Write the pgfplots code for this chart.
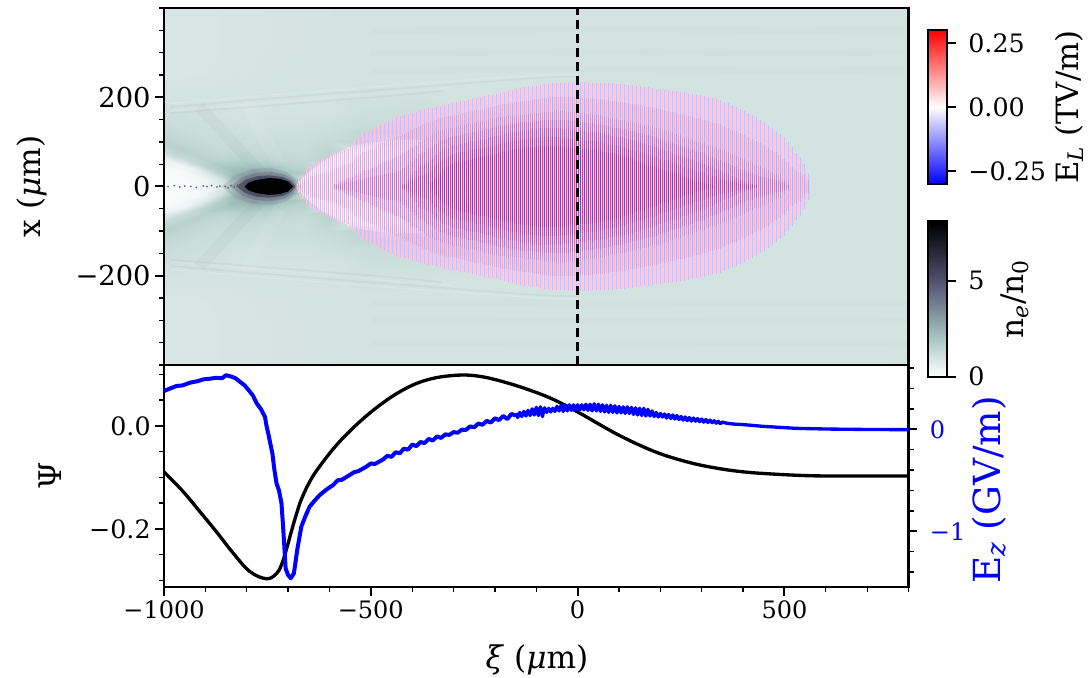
\documentclass[border=0pt]{standalone}
\usepackage{fontspec}
\setmainfont{DejaVu Serif}
\usepackage{pgfplots}
\usepackage{pgfplotstable}
\usepgfplotslibrary{patchplots}
\pgfplotsset{compat=1.18}
\newcommand{\sbs}[1]{\textsubscript{#1}}
\definecolor{lp1}{RGB}{255,195,210}\definecolor{lp2}{RGB}{255,170,185}\definecolor{lp3}{RGB}{255,145,160}\definecolor{lp4}{RGB}{255,120,135}\definecolor{lp5}{RGB}{255,100,115}\definecolor{lp6}{RGB}{255,80,90}\definecolor{lp7}{RGB}{255,60,70}
\definecolor{lb1}{RGB}{190,195,255}\definecolor{lb2}{RGB}{170,175,255}\definecolor{lb3}{RGB}{145,155,255}\definecolor{lb4}{RGB}{125,135,255}\definecolor{lb5}{RGB}{105,115,255}\definecolor{lb6}{RGB}{88,98,255}\definecolor{lb7}{RGB}{70,80,255}
\pgfplotstableread{
x y n
-1000 0 .1
-1000 15 .1
-1000 30 .15
-1000 45 .25
-1000 60 .4
-1000 80 1.3
-1000 100 1.6
-1000 120 1.4
-1000 140 1.25
-1000 170 1.1
-1000 200 1
-1000 250 .9
-1000 300 .9
-1000 400 .9
-950 0 .15
-950 15 .15
-950 30 .2
-950 45 .4
-950 60 1.2
-950 80 1.6
-950 100 1.4
-950 120 1.25
-950 140 1.15
-950 170 1.08
-950 200 1
-950 250 .91
-950 300 .9
-950 400 .9
-900 0 .3
-900 15 .3
-900 30 .7
-900 45 1.5
-900 60 1.6
-900 80 1.4
-900 100 1.25
-900 120 1.15
-900 140 1.1
-900 170 1.05
-900 200 1
-900 250 .92
-900 300 .91
-900 400 .91
-860 0 .8
-860 15 1
-860 30 1.7
-860 45 1.9
-860 60 1.5
-860 80 1.3
-860 100 1.2
-860 120 1.15
-860 140 1.1
-860 170 1.05
-860 200 1
-860 250 .93
-860 300 .92
-860 400 .92
-820 0 2
-820 15 2.4
-820 30 2.4
-820 45 2
-820 60 1.6
-820 80 1.35
-820 100 1.2
-820 120 1.1
-820 140 1.05
-820 170 1
-820 200 1
-820 250 .94
-820 300 .93
-820 400 .93
-780 0 4
-780 15 3.6
-780 30 2.8
-780 45 2
-780 60 1.55
-780 80 1.3
-780 100 1.2
-780 120 1.12
-780 140 1.05
-780 170 1
-780 200 1
-780 250 .95
-780 300 .94
-780 400 .94
-740 0 4
-740 15 3.6
-740 30 2.7
-740 45 1.9
-740 60 1.55
-740 80 1.3
-740 100 1.2
-740 120 1.1
-740 140 1.05
-740 170 1
-740 200 1
-740 250 .96
-740 300 .95
-740 400 .95
-700 0 4
-700 15 3
-700 30 2
-700 45 1.6
-700 60 1.4
-700 80 1.25
-700 100 1.15
-700 120 1.1
-700 140 1.05
-700 170 1
-700 200 1
-700 250 .97
-700 300 .96
-700 400 .96
-660 0 .5
-660 15 1.1
-660 30 1.7
-660 45 1.5
-660 60 1.35
-660 80 1.2
-660 100 1.15
-660 120 1.1
-660 140 1.05
-660 170 1
-660 200 1
-660 250 .98
-660 300 .97
-660 400 .97
-600 0 .5
-600 15 .5
-600 30 .5
-600 45 1
-600 60 1.55
-600 80 1.5
-600 100 1.3
-600 120 1.15
-600 140 1.1
-600 170 1
-600 200 1
-600 250 .98
-600 300 .98
-600 400 .98
-520 0 .5
-520 15 .5
-520 30 .5
-520 45 .5
-520 60 .6
-520 80 .8
-520 100 1.45
-520 120 1.4
-520 140 1.2
-520 170 1.1
-520 200 1.05
-520 250 1
-520 300 1
-520 400 1
-440 0 .5
-440 15 .5
-440 30 .5
-440 45 .5
-440 60 .5
-440 80 .6
-440 100 .9
-440 120 1.4
-440 140 1.25
-440 170 1.12
-440 200 1.05
-440 250 1
-440 300 1
-440 400 1
-360 0 .8
-360 15 .8
-360 30 .8
-360 45 .8
-360 60 .8
-360 80 .8
-360 100 .9
-360 120 1.15
-360 140 1.2
-360 170 1.12
-360 200 1.05
-360 250 1
-360 300 1
-360 400 1
-280 0 1
-280 15 1
-280 30 1
-280 45 1
-280 60 1
-280 80 1
-280 100 1
-280 120 1.05
-280 140 1.1
-280 170 1.08
-280 200 1
-280 250 1
-280 300 1
-280 400 1
-180 0 1
-180 15 1
-180 30 1
-180 45 1
-180 60 1
-180 80 1
-180 100 1
-180 120 1
-180 140 1
-180 170 1
-180 200 1
-180 250 1
-180 300 1
-180 400 1
800 0 1
800 15 1
800 30 1
800 45 1
800 60 1
800 80 1
800 100 1
800 120 1
800 140 1
800 170 1
800 200 1
800 250 1
800 300 1
800 400 1
}\density
\pgfplotstableread{
x a b c d
-700 15 0 0 0
-690 28 0 0 0
-680 40 0 0 0
-670 47 0 0 0
-660 52 0 0 0
-650 57 0 0 0
-640 61 0 0 0
-630 66 0 0 0
-620 71 0 0 0
-610 75 5 0 0
-600 78 10 0 0
-590 82 14 0 0
-580 85 18 0 0
-570 90 22 0 0
-560 102 26 0 0
-550 112 30 0 0
-540 119 34 0 0
-530 122 38 0 0
-520 127 42 0 0
-510 132 46 0 0
-500 138 50 0 0
-490 142 54 0 0
-480 147 58 0 0
-470 150 62 0 0
-460 155 66 0 0
-450 158 70 0 0
-440 161 76 5 0
-430 163 82 15 0
-420 165 88 25 0
-410 168 94 35 0
-400 171 100 45 0
-390 173 105 50 0
-380 175 110 56 0
-370 177 115 62 10
-360 179 120 70 20
-350 181 125 78 30
-340 183 127 83 38
-330 185 129 87 44
-320 187 131 91 51
-310 189 133 93 53
-300 191 135 95 55
-290 192 137 97 57
-280 194 139 99 59
-270 196 141 101 61
-260 198 143 103 63
-250 200 145 105 65
-240 202 147 107 67
-230 204 149 109 69
-220 206 151 111 71
-210 208 153 113 73
-200 210 155 115 75
-190 212 156 117 77
-180 214 157 119 79
-170 216 158 121 81
-160 218 159 123 83
-150 220 160 125 85
-140 222 161 126 86
-130 223 162 127 87
-120 225 163 128 88
-110 226 164 129 89
-100 228 165 130 90
-90 229 166 130 90
-80 230 167 130 90
-70 231 168 130 90
-60 232 169 130 90
-50 233 170 130 90
-40 233 169 129 89
-30 234 168 128 88
-20 234 167 127 87
-10 235 166 126 86
0 235 165 125 85
10 234 164 124 84
20 234 163 123 83
30 233 162 122 82
40 233 161 121 81
50 232 160 120 80
60 232 158 118 78
70 231 156 116 76
80 231 154 114 74
90 230 152 112 72
100 230 150 110 70
110 229 148 108 67
120 228 146 106 64
130 227 144 104 61
140 226 142 102 58
150 225 140 100 55
160 224 138 97 52
170 222 136 94 49
180 221 134 91 46
190 219 132 88 43
200 218 130 85 40
210 217 127 82 37
220 216 124 79 34
230 214 121 76 31
240 213 118 73 28
250 212 115 70 25
260 211 112 67 22
270 209 109 64 19
280 208 106 61 16
290 206 103 58 13
300 205 100 55 10
310 203 97 51 8
320 201 94 47 6
330 199 91 43 4
340 197 88 39 2
350 194 85 35 0
360 190 81 31 0
370 186 77 27 0
380 182 73 23 0
390 178 69 19 0
400 174 65 15 0
410 170 61 12 0
420 165 57 9 0
430 160 53 6 0
440 155 49 3 0
450 150 45 0 0
460 145 41 0 0
470 138 37 0 0
480 131 33 0 0
490 125 29 0 0
500 118 25 0 0
510 110 15 0 0
520 100 8 0 0
530 88 0 0 0
540 76 0 0 0
550 65 0 0 0
560 50 0 0 0
570 30 0 0 0
}\laser
\pgfplotsset{
  common/.style={scale only axis,
    axis line style={line width=1.75pt},
    tick style={line width=1.5pt,black},
    minor tick style={line width=1pt,black},
    major tick length=6.5pt,minor tick length=3.75pt,
    tick align=outside,
    scaled ticks=false},
  stripe/.style={ycomb,no markers,line width=1.125pt,line cap=butt},
  wash/.style={ycomb,no markers,line width=.85pt,color={rgb,255:red,240;green,228;blue,255},opacity=.6},
  densmap/.style={colormap={bone}{rgb255(0)=(255,255,255) rgb255(1)=(211,227,224) rgb255(2)=(166,198,193) rgb255(5)=(81,81,113) rgb255(8)=(0,0,0)},point meta min=0,point meta max=8},
}
% one nested envelope of the laser field: #1 colour index, #2 half-height column expression
\newcommand{\level}[2]{%
 \addplot[stripe,color=lp#1] table[x expr=\thisrow{x}*0.96704+2.1,y expr=#2] {\laser};
 \addplot[stripe,color=lp#1] table[x expr=\thisrow{x}*0.96704+2.1,y expr=-(#2)] {\laser};
 \addplot[stripe,color=lb#1] table[x expr=\thisrow{x}*0.96704+6.935,y expr=#2] {\laser};
 \addplot[stripe,color=lb#1] table[x expr=\thisrow{x}*0.96704+6.935,y expr=-(#2)] {\laser};
}
\begin{document}
\begin{tikzpicture}[x=1pt,y=1pt]
\useasboundingbox (0,0) rectangle (816.75pt,508.5pt);
% ---------- main map
\begin{axis}[common,densmap,at={(123pt,234.75pt)},anchor=south west,
  width=558.4pt,height=267.75pt,axis on top,
  xmin=-1000,xmax=800,ymin=-400,ymax=400,
  xtick=\empty,ytick={-200,0,200},yticklabels={−200,0,200},
  minor ytick={-400,-350,-300,-250,-150,-100,-50,50,100,150,250,300,350,400},
  ytick pos=left,
  yticklabel style={font=\fontsize{20.5}{22}\selectfont},
  ylabel={x (\textit{μ}m)},
  ylabel style={font=\fontsize{23.4}{26}\selectfont,at={(axis description cs:-0.177,0.5)},anchor=center}]
\addplot[surf,shader=interp,mesh/ordering=y varies,mesh/rows=14,mesh/cols=16,point meta=explicit] table[x=x,y=y,meta=n] {\density};
\addplot[surf,shader=interp,mesh/ordering=y varies,mesh/rows=14,mesh/cols=16,point meta=explicit] table[x=x,y expr=-\thisrow{y},meta=n] {\density};
% streaks in the wake
\addplot[white,opacity=.16,line width=1pt,smooth] coordinates {(-985,186)(-664,211)(-342,234)(-100,249)(0,252)};
\addplot[white,opacity=.16,line width=1pt,smooth] coordinates {(-985,-186)(-664,-211)(-342,-234)(-100,-249)(0,-252)};
\addplot[black,opacity=.03,line width=1.2pt,smooth] coordinates {(-985,178)(-664,203)(-342,226)(-100,243)(0,246)};
\addplot[black,opacity=.03,line width=1.2pt,smooth] coordinates {(-985,-178)(-664,-203)(-342,-226)(-100,-243)(0,-246)};
\addplot[white,opacity=.14,line width=1pt,smooth] coordinates {(-985,170)(-664,194)(-442,212)(-300,222)};
\addplot[white,opacity=.14,line width=1pt,smooth] coordinates {(-985,-170)(-664,-194)(-442,-212)(-300,-222)};
\addplot[black,opacity=.03,line width=1.2pt,smooth] coordinates {(-985,164)(-600,192)(-442,204)(-330,214)};
\addplot[black,opacity=.03,line width=1.2pt,smooth] coordinates {(-985,-164)(-600,-192)(-442,-204)(-330,-214)};
% faint horizontal bands ahead of the wake
\pgfplotsinvokeforeach{260,299,350}{
 \addplot[black,opacity=.009,line width=5pt] coordinates {(-500,#1)(100,#1+3)(500,#1)(800,#1+2)};
 \addplot[black,opacity=.009,line width=5pt] coordinates {(-500,-#1)(100,-#1-3)(500,-#1)(800,-#1-2)};
}
% X-shaped faint sheets
\addplot[black,opacity=.022,line width=9pt] coordinates {(-770,35)(-915,180)};
\addplot[black,opacity=.022,line width=9pt] coordinates {(-770,-35)(-915,-180)};
\addplot[white,opacity=.08,line width=10pt] coordinates {(-720,50)(-770,130)(-800,190)};
\addplot[white,opacity=.08,line width=10pt] coordinates {(-720,-50)(-770,-130)(-800,-190)};
% bubble
\addplot[fill=white,draw=none,opacity=.55] coordinates {(-683,0)(-664,20)(-648,34)(-624,52)(-591,70)(-551,88)(-511,97)(-446,104)(-382,105)(-334,100)(-290,80)(-265,40)(-258,0)(-265,-40)(-290,-80)(-334,-100)(-382,-105)(-446,-104)(-511,-97)(-551,-88)(-591,-70)(-624,-52)(-648,-34)(-664,-20)} -- cycle;
\addplot[fill=white,draw=none,opacity=.85] coordinates {(-683,0)(-664,19)(-648,32)(-624,49)(-591,66)(-551,82)(-511,90)(-470,92)(-430,85)(-400,60)(-390,0)(-400,-60)(-430,-85)(-470,-92)(-511,-90)(-551,-82)(-591,-66)(-624,-49)(-648,-32)(-664,-19)} -- cycle;
% compressed electron blob
\addplot[fill={rgb,255:red,105;green,108;blue,122},draw=none,opacity=.18] coordinates {(-860,0)(-830,24)(-790,38)(-745,42)(-705,34)(-680,15)(-670,0)(-680,-15)(-705,-34)(-745,-42)(-790,-38)(-830,-24)} -- cycle;
\addplot[fill={rgb,255:red,90;green,86;blue,115},draw=none,opacity=.3] coordinates {(-840,0)(-812,20)(-780,30)(-745,33)(-710,28)(-688,14)(-676,0)(-688,-14)(-710,-28)(-745,-33)(-780,-30)(-812,-20)} -- cycle;
\addplot[fill={rgb,255:red,55;green,50;blue,80},draw=none,opacity=.6] coordinates {(-825,0)(-803,15)(-775,23)(-745,25)(-712,21)(-692,11)(-682,0)(-692,-11)(-712,-21)(-745,-25)(-775,-23)(-803,-15)} -- cycle;
\addplot[fill=black,draw=none] coordinates {(-805,0)(-795,9)(-775,15)(-745,19)(-720,17)(-700,11)(-688,0)(-700,-11)(-720,-17)(-745,-19)(-775,-15)(-795,-9)} -- cycle;
\addplot[only marks,mark=*,mark size=.55pt,color={rgb,255:red,90;green,95;blue,110},opacity=.7] coordinates {(-990,0)(-975,2)(-962,-1)(-950,1)(-935,0)(-922,-2)(-905,1)(-896,0)(-885,2)(-872,-1)(-865,1)(-852,0)(-845,-3)(-838,2)(-830,-1)(-822,3)(-815,0)(-810,-4)};
% laser field: light zero-crossings, then red and blue half-cycles in nested envelopes
\addplot[wash] table[x expr=\thisrow{x}*0.96704+4.518,y expr=\thisrow{b}] {\laser};
\addplot[wash] table[x expr=\thisrow{x}*0.96704+4.518,y expr=-\thisrow{b}] {\laser};
\addplot[wash] table[x expr=\thisrow{x}*0.96704+9.353,y expr=\thisrow{b}] {\laser};
\addplot[wash] table[x expr=\thisrow{x}*0.96704+9.353,y expr=-\thisrow{b}] {\laser};
\level{1}{\thisrow{a}}
\level{2}{(\thisrow{a}+\thisrow{b})/2}
\level{3}{\thisrow{b}}
\level{4}{(\thisrow{b}+\thisrow{c})/2}
\level{5}{\thisrow{c}}
\level{6}{(\thisrow{c}+\thisrow{d})/2}
\level{7}{\thisrow{d}}
\addplot[black,line width=1.75pt,dash pattern=on 7pt off 3.5pt] coordinates {(0,-400)(0,400)};
\end{axis}
% ---------- lineouts, left axis
\begin{axis}[common,at={(123pt,68.25pt)},anchor=south west,
  width=558.4pt,height=166.5pt,
  xmin=-1000,xmax=800,ymin=-0.313,ymax=0.118,
  xtick={-1000,-500,0,500},xticklabels={−1000,−500,0,500},
  minor xtick={-900,-800,-700,-600,-400,-300,-200,-100,100,200,300,400,600,700,800},
  ytick={-0.2,0},yticklabels={−0.2,0.0},
  minor ytick={-0.3,-0.25,-0.15,-0.1,-0.05,0.05,0.1},
  xtick pos=bottom,ytick pos=left,
  xticklabel style={font=\fontsize{18}{22}\selectfont},
  yticklabel style={font=\fontsize{19}{22}\selectfont},
  xlabel={\textit{ξ} (\textit{μ}m)},
  xlabel style={font=\fontsize{23.4}{26}\selectfont,at={(axis description cs:0.501,-0.33)},anchor=center},
  ylabel={Ψ},
  ylabel style={font=\fontsize{23.4}{26}\selectfont,at={(axis description cs:-0.153,0.5)},anchor=center}]
\addplot[black,line width=2.5pt,smooth,tension=.6] coordinates {(-1000,-.0895)(-953.5,-.128)(-913,-.167)(-873,-.206)(-833,-.247)(-792.5,-.283)(-752,-.297)(-728,-.287)(-716,-.27)(-704,-.24)(-692,-.205)(-680,-.172)(-668,-.143)(-650,-.112)(-631,-.087)(-591,-.045)(-551,-.0105)(-511,.019)(-470,.045)(-430,.066)(-390,.082)(-350,.092)(-309.5,.097)(-269,.0985)(-229,.095)(-189,.0875)(-148.5,.078)(-108,.067)(-68,.0545)(-28,.039)(12,.0215)(52,.003)(92,-.015)(132,-.031)(172,-.0455)(206,-.056)(246,-.066)(286.5,-.0745)(327,-.081)(367,-.0862)(407,-.09)(447.5,-.0925)(528,-.096)(608,-.0975)(800,-.0975)};
\end{axis}
% ---------- lineouts, right axis
\begin{axis}[common,at={(123pt,68.25pt)},anchor=south west,
  width=558.4pt,height=166.5pt,
  xmin=-1000,xmax=800,ymin=-1.546,ymax=0.63,
  axis x line=none,axis y line*=right,
  ytick={-1,0},yticklabels={−1,0},
  minor ytick={-1.4,-1.2,-0.8,-0.6,-0.4,-0.2,0.2,0.4,0.6},
  yticklabel style={font=\fontsize{18}{22}\selectfont,color=blue,xshift=6pt},
  ylabel={E\sbs{\textit{z}} (GV/m)},
  ylabel style={font=\fontsize{28}{30}\selectfont,color=blue,at={(axis description cs:1.109,0.437)},anchor=center}]
\addplot[blue,line width=3pt,line join=round] coordinates {(-1000,.375)(-985,.40)(-970,.424)(-955,.43)(-937,.457)(-920,.47)(-905,.489)(-890,.495)(-873,.505)(-860,.50)(-850,.53)(-837,.516)(-827,.50)(-817,.467)(-805,.43)(-792.5,.369)(-785,.33)(-776,.255)(-766,.20)(-756,.123)(-752,.03)(-748,-.04)(-743,-.14)(-738,-.236)(-733,-.40)(-728,-.53)(-722,-.60)(-716,-.726)(-713,-.90)(-710,-1.086)(-706,-1.364)(-700,-1.429)(-693.5,-1.46)(-686,-1.412)(-682,-1.30)(-678,-1.184)(-668,-.955)(-658,-.85)(-648,-.759)(-636,-.70)(-623.5,-.645)(-607,-.59)(-591,-.546)(-580,-.50)(-570,-.495)(-551,-.448)(-540,-.42)(-530,-.41)(-511,-.367)(-500,-.335)(-490,-.34)(-470,-.295)(-460,-.26)(-450,-.27)(-440,-.225)(-430,-.235)(-420,-.19)(-410,-.20)(-400,-.15)(-390,-.165)(-380,-.125)(-370,-.135)(-360,-.095)(-350,-.11)(-340,-.07)(-330,-.085)(-320,-.05)(-310,-.055)(-300,-.028)(-290,-.034)(-280,-.004)(-270,-.006)(-260,.028)(-250,.02)(-240,.056)(-230,.044)(-220,.082)(-210,.066)(-200,.108)(-190,.09)(-180,.13)(-170,.1)(-160,.15)(-150,.135)};
\addplot[blue,line width=2.5pt,line join=round] coordinates {(-150,.155)(-145,.115)(-140,.165)(-135,.125)(-130,.175)(-125,.13)(-120,.185)(-115,.135)(-110,.20)(-105,.14)(-100,.215)(-95,.135)(-90,.22)(-85,.125)(-80,.21)(-75,.165)(-70,.205)(-65,.17)(-60,.205)(-55,.175)(-50,.225)(-45,.18)(-40,.235)(-35,.175)(-30,.24)(-25,.18)(-20,.24)(-15,.185)(-10,.24)(-5,.19)(0,.24)(5,.19)(10,.24)(15,.19)(20,.245)(25,.185)(30,.245)(35,.18)(40,.25)(45,.18)(50,.245)(55,.175)(60,.24)(65,.17)(70,.235)(75,.165)(80,.235)(85,.165)(90,.23)(95,.16)(100,.225)(105,.16)(110,.22)(115,.155)(120,.22)(125,.155)(130,.215)(135,.145)(140,.21)(145,.14)(150,.205)(155,.135)(160,.205)(165,.13)(170,.195)(175,.13)(180,.18)(185,.125)(190,.165)(195,.12)(200,.155)(205,.12)(210,.15)(215,.11)(220,.145)(225,.105)(230,.14)(235,.10)(240,.135)(245,.095)(250,.125)(255,.09)(260,.12)(265,.085)(270,.115)(275,.08)(280,.11)(285,.08)(290,.105)(295,.075)(300,.10)(305,.07)(310,.095)(315,.067)(320,.09)(325,.065)(330,.083)(335,.06)(340,.078)(345,.055)(350,.07)(360,.06)(370,.054)(380,.05)(400,.046)(447,.029)(528,.009)(608,.002)(700,-.002)(800,-.004)};
\end{axis}
% ---------- colour bars
\begin{axis}[common,at={(696pt,370.5pt)},anchor=south west,width=14.25pt,height=115.5pt,
  xmin=0,xmax=1,ymin=-0.3,ymax=0.3,xtick=\empty,ytick={-0.25,0,0.25},yticklabels={−0.25,0.00,0.25},
  ytick pos=right,axis on top,
  axis line style={line width=1.5pt},
  colormap={bwr}{rgb255(0)=(0,0,255) rgb255(1)=(255,255,255) rgb255(2)=(255,0,0)},point meta min=-0.3,point meta max=0.3,
  yticklabel style={font=\fontsize{19}{22}\selectfont,xshift=6pt},
  ylabel={E\sbs{\textit{L}} (TV/m)},
  ylabel style={font=\fontsize{23}{26}\selectfont,at={(axis description cs:7.42,0.5)},anchor=center}]
\addplot[surf,shader=interp,mesh/rows=3,mesh/cols=2,point meta=explicit] table[x=x,y=y,meta=y] {
x y
0 -0.3
1 -0.3
0 0
1 0
0 0.3
1 0.3
};
\end{axis}
\begin{axis}[common,densmap,at={(696pt,226pt)},anchor=south west,width=14.25pt,height=116.5pt,
  xmin=0,xmax=1,ymin=0,ymax=8.1,xtick=\empty,ytick={0,5},yticklabels={0,5},
  ytick pos=right,axis on top,
  axis line style={line width=1.5pt},
  yticklabel style={font=\fontsize{19}{22}\selectfont,xshift=6pt},
  ylabel={n\sbs{\textit{e}}/n\sbs{0}},
  ylabel style={font=\fontsize{23.4}{26}\selectfont,at={(axis description cs:4.55,0.5)},anchor=center}]
\addplot[surf,shader=interp,mesh/rows=6,mesh/cols=2,point meta=explicit] table[x=x,y=y,meta=y] {
x y
0 0
1 0
0 1
1 1
0 2
1 2
0 5
1 5
0 8
1 8
0 8.1
1 8.1
};
\end{axis}
\end{tikzpicture}
\end{document}
